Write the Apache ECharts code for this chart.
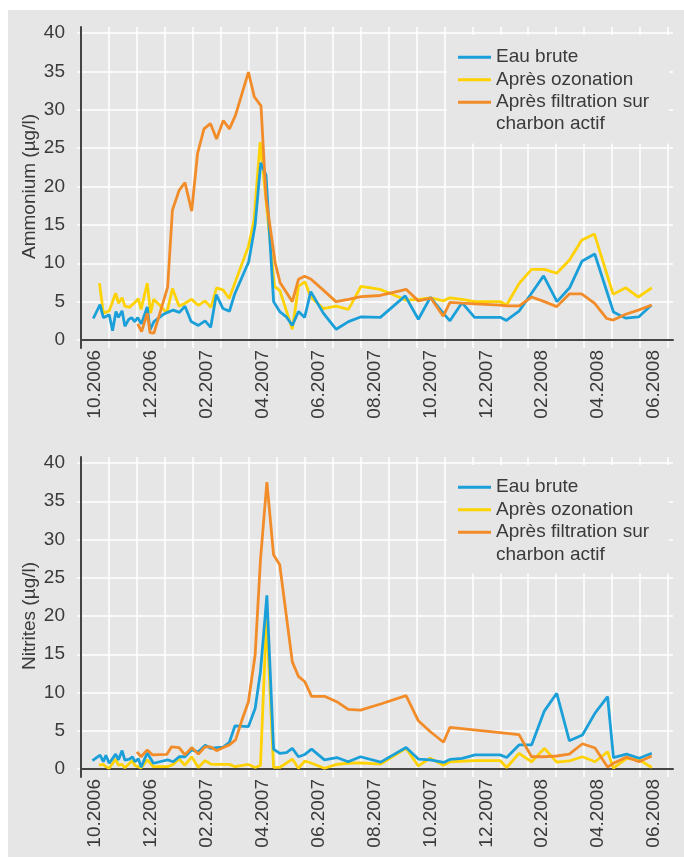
<!DOCTYPE html>
<html>
<head>
<meta charset="utf-8">
<script src="https://cdn.jsdelivr.net/npm/echarts@6/dist/echarts.min.js"></script>
<style>
  html, body { margin: 0; padding: 0; background: #fff; }
  #panel { position: absolute; left: 8px; top: 10px; right: 0; bottom: 0; background: #e6e6e7; }
  #chart { position: absolute; left: 0; top: 0; width: 684px; height: 857px; }
</style>
</head>
<body>
<div id="panel"></div>
<div id="chart"></div>
<script>
// mois (étiquettes de l'axe), la position x des mesures est en mois depuis le 1.10.2006
var mois = ['10.2006','11.2006','12.2006','01.2007','02.2007','03.2007','04.2007','05.2007','06.2007','07.2007','08.2007','09.2007',
            '10.2007','11.2007','12.2007','01.2008','02.2008','03.2008','04.2008','05.2008','06.2008'];
var graduationsY = [0, 40, 5];

// Ammonium (µg/l)
var ammoniumBrute = [[0.44,2.8],[0.68,4.6],[0.80,2.9],[1.01,3.3],[1.13,1.2],[1.25,3.7],[1.34,2.95],[1.47,3.8],[1.57,1.8],[1.71,2.7],
  [1.82,2.9],[1.92,2.4],[2.03,2.9],[2.16,2.1],[2.37,4.3],[2.47,1.3],[2.61,2.4],[2.91,3.25],[3.10,3.6],[3.30,3.9],[3.52,3.6],
  [3.72,4.4],[3.94,2.4],[4.20,1.9],[4.44,2.5],[4.64,1.65],[4.84,5.9],[5.08,4.1],[5.31,3.75],[5.50,6.0],[6.0,10.2],[6.23,15.0],
  [6.43,23.1],[6.62,21.5],[6.89,5.0],[7.11,3.7],[7.35,3.0],[7.56,1.9],[7.78,3.7],[8.0,2.95],[8.22,6.3],[8.67,3.5],[9.13,1.4],
  [9.57,2.4],[10.0,3.0],[10.71,2.95],[11.6,5.75],[12.07,2.7],[12.5,5.56],[12.98,3.4],[13.2,2.5],[13.63,4.86],[14.08,2.95],
  [15.0,2.95],[15.22,2.55],[15.67,3.75],[16.1,6.0],[16.55,8.35],[17.03,5.0],[17.48,6.8],[17.92,10.25],[18.38,11.2],[19.05,3.65],
  [19.48,2.85],[19.95,3.0],[20.41,4.56]];
var ammoniumOzone = [[0.66,7.4],[0.80,3.5],[1.01,3.8],[1.24,6.1],[1.34,4.8],[1.47,5.5],[1.57,4.4],[1.73,4.25],[1.93,4.9],[2.05,5.4],
  [2.15,4.0],[2.37,7.4],[2.49,3.5],[2.6,5.3],[2.83,4.5],[3.07,3.5],[3.27,6.7],[3.51,4.4],[3.72,4.8],[3.96,5.3],[4.2,4.5],[4.44,5.1],
  [4.65,4.25],[4.85,6.8],[5.09,6.5],[5.3,5.4],[5.99,12.2],[6.19,15.6],[6.41,25.8],[6.6,19.0],[6.92,7.0],[7.12,6.4],[7.56,1.4],
  [7.78,7.0],[8.01,7.6],[8.22,5.6],[8.67,4.1],[9.12,4.4],[9.57,4.0],[10.02,7.0],[10.7,6.6],[11.18,5.9],[11.63,5.2],[12.07,5.3],
  [12.52,5.5],[12.96,5.1],[13.2,5.5],[13.64,5.3],[14.09,5.0],[14.99,5.0],[15.23,4.6],[15.68,7.4],[16.12,9.2],[16.58,9.2],
  [17.02,8.7],[17.47,10.4],[17.91,13.0],[18.37,13.8],[19.04,5.95],[19.49,6.8],[19.94,5.6],[20.42,6.8]];
var ammoniumCharbon = [[2.03,2.1],[2.17,1.1],[2.37,3.5],[2.47,0.95],[2.61,0.9],[3.1,6.9],[3.27,16.9],[3.51,19.5],[3.72,20.5],
  [3.96,16.8],[4.17,24.3],[4.4,27.5],[4.63,28.2],[4.85,26.2],[5.09,28.6],[5.31,27.5],[5.53,29.3],[5.99,34.9],[6.2,31.7],[6.44,30.5],
  [6.62,18.5],[6.95,10.0],[7.12,7.5],[7.56,5.0],[7.78,7.9],[8.0,8.3],[8.22,7.95],[8.67,6.5],[9.12,5.0],[9.57,5.3],[10.02,5.65],
  [10.7,5.8],[11.18,6.2],[11.63,6.6],[12.07,5.1],[12.52,5.45],[12.96,3.1],[13.2,4.9],[13.64,4.8],[14.09,4.7],[14.99,4.55],
  [15.23,4.45],[15.68,4.45],[16.12,5.6],[16.58,5.0],[17.02,4.35],[17.47,6.0],[17.91,6.0],[18.37,4.8],[18.81,2.8],[19.04,2.6],
  [19.49,3.35],[19.94,3.9],[20.42,4.56]];

// Nitrites (µg/l)
var nitritesBrute = [[0.41,1.1],[0.68,1.8],[0.80,0.95],[0.89,1.8],[1.01,0.75],[1.24,1.95],[1.34,1.2],[1.47,2.4],[1.57,1.15],
  [1.73,1.3],[1.84,1.6],[1.93,0.95],[2.05,1.35],[2.15,0.25],[2.37,2.1],[2.59,0.75],[3.1,1.2],[3.3,0.95],[3.51,1.6],[3.72,1.6],
  [3.96,2.5],[4.2,2.25],[4.44,3.1],[4.64,2.7],[4.85,2.8],[5.09,2.85],[5.31,3.5],[5.51,5.65],[5.99,5.55],[6.23,7.9],[6.42,12.7],
  [6.65,22.7],[6.89,2.6],[7.11,2.05],[7.35,2.15],[7.56,2.7],[7.78,1.6],[8.01,1.9],[8.25,2.6],[8.71,1.2],[9.15,1.5],[9.56,0.95],
  [10.0,1.6],[10.72,0.9],[11.63,2.8],[12.07,1.3],[12.49,1.2],[12.97,0.85],[13.2,1.25],[13.64,1.4],[14.1,1.85],[14.99,1.85],
  [15.23,1.5],[15.67,3.15],[16.12,3.15],[16.58,7.6],[17.02,9.9],[17.47,3.7],[17.94,4.45],[18.39,7.3],[18.84,9.45],[19.05,1.5],
  [19.52,1.95],[19.97,1.4],[20.42,2.05]];
var nitritesOzone = [[0.64,0.5],[0.80,0.6],[0.89,0.3],[1.01,0.1],[1.24,1.3],[1.34,0.5],[1.47,0.6],[1.57,0.15],[1.84,1.1],[1.93,0.45],
  [2.15,0.15],[2.37,1.2],[2.59,0.3],[3.1,0.3],[3.3,0.6],[3.51,1.3],[3.72,0.5],[3.96,1.6],[4.2,0.2],[4.44,1.1],[4.64,0.65],
  [4.85,0.6],[5.31,0.6],[5.51,0.3],[5.99,0.6],[6.23,0.2],[6.42,0.45],[6.64,19.8],[6.89,0.2],[7.11,0.2],[7.56,1.3],[7.78,0.1],
  [8.01,1.05],[8.25,0.75],[8.71,0.1],[9.15,0.6],[9.56,0.75],[10.0,0.8],[10.72,0.65],[11.63,2.7],[12.07,0.4],[12.49,1.4],
  [12.97,0.5],[13.2,0.95],[14.1,1.1],[14.99,1.1],[15.23,0.2],[15.67,2.05],[16.12,0.95],[16.58,2.7],[17.02,0.9],[17.47,1.05],
  [17.94,1.6],[18.39,0.95],[18.84,2.25],[19.05,0.1],[19.52,1.4],[19.97,1.2],[20.42,0.2]];
var nitritesCharbon = [[2.0,2.25],[2.15,1.6],[2.37,2.5],[2.55,1.85],[3.07,1.9],[3.24,2.9],[3.51,2.8],[3.72,1.85],[3.96,2.8],
  [4.2,1.95],[4.44,2.9],[4.64,2.9],[4.85,2.4],[5.09,2.8],[5.31,3.15],[5.53,3.8],[5.75,6.3],[5.99,8.8],[6.23,14.9],[6.42,27.3],
  [6.65,37.5],[6.89,28.0],[7.11,26.7],[7.56,14.0],[7.78,12.1],[8.01,11.4],[8.25,9.5],[8.71,9.5],[9.15,8.8],[9.56,7.8],[10.0,7.7],
  [10.72,8.5],[11.63,9.6],[12.07,6.3],[12.49,4.9],[12.97,3.5],[13.2,5.45],[15.67,4.5],[16.12,1.6],[16.58,1.6],[17.02,1.7],
  [17.47,1.95],[17.94,3.3],[18.39,2.75],[18.84,0.25],[19.05,0.75],[19.52,1.55],[19.97,0.95],[20.42,1.7]];

var noms = ['Eau brute', 'Après ozonation', 'Après filtration sur charbon actif'];
var couleurs = ['#1a9fd9', '#ffd200', '#f28c28'];

var police = '"Liberation Sans", Arial, sans-serif';
var texte = '#3a3a3a';
var fond = '#e6e6e7';

var myChart = echarts.init(document.getElementById('chart'));

function grilles(top) {
  return [
    { left: 81, top: top, width: 592, height: top === 33 ? 307 : 306 },
    { left: 81, top: top - 6, width: 587, height: (top === 33 ? 307 : 306) + 14 }
  ];
}

function axesX(g) {
  return [
    { type: 'value', gridIndex: g, min: 0, max: 21.18, z: 1,
      axisLine: { show: true, lineStyle: { color: '#444', width: 2 } },
      axisTick: { show: false }, axisLabel: { show: false }, splitLine: { show: false } },
    { type: 'category', gridIndex: g + 1, data: mois, offset: -8, z: 0,
      axisLine: { show: false }, axisTick: { show: false },
      axisLabel: { interval: 1, rotate: 90, margin: 10, fontSize: 19, fontFamily: police, color: texte },
      splitLine: { show: true, interval: 0, lineStyle: { color: '#fff', width: 1.5 } } }
  ];
}

function axesY(g, nom) {
  return [
    { type: 'value', gridIndex: g, min: graduationsY[0], max: graduationsY[1], interval: graduationsY[2], z: 0,
      name: nom, nameLocation: 'middle', nameGap: 42, nameMoveOverlap: false,
      nameTextStyle: { fontSize: 19, fontFamily: police, color: texte },
      axisLine: { show: false },
      axisTick: { show: true, length: 4, lineStyle: { color: '#fff', width: 1.5 } },
      axisLabel: { margin: 16, fontSize: 19, fontFamily: police, color: texte },
      splitLine: { lineStyle: { color: '#fff', width: 1.5 } } },
    { type: 'value', gridIndex: g + 1, min: 0, max: 1, z: 1,
      axisLine: { show: true, lineStyle: { color: '#444', width: 2 } },
      axisTick: { show: false }, axisLabel: { show: false }, splitLine: { show: false } }
  ];
}

function serie(nom, donnees, couleur, axe) {
  return {
    name: nom, type: 'line', data: donnees, xAxisIndex: axe, yAxisIndex: axe,
    showSymbol: false, symbol: 'none', animation: false,
    lineStyle: { color: couleur, width: 2.8 }, itemStyle: { color: couleur }
  };
}

function legende(top) {
  return {
    orient: 'vertical', left: 447, top: top, padding: [11, 20, 30, 11],
    backgroundColor: fond, itemGap: 0, itemWidth: 33, itemHeight: 3, icon: 'rect',
    selectedMode: false, data: noms,
    textStyle: { fontSize: 19, fontFamily: police, color: texte, lineHeight: 22.5 },
    formatter: function (n) { return n === noms[2] ? 'Après filtration sur' : n; }
  };
}

var option = {
  animation: false,
  grid: grilles(33).concat(grilles(463)),
  xAxis: axesX(0).concat(axesX(2)),
  yAxis: axesY(0, 'Ammonium (µg/l)').concat(axesY(2, 'Nitrites (µg/l)')),
  legend: [legende(35), legende(465)],
  graphic: [
    { type: 'text', z: 10, style: { text: 'charbon actif', x: 496, y: 124, verticalAlign: 'middle', font: '19px ' + police, fill: texte } },
    { type: 'text', z: 10, style: { text: 'charbon actif', x: 496, y: 555, verticalAlign: 'middle', font: '19px ' + police, fill: texte } }
  ],
  series: [
    serie(noms[1], ammoniumOzone, couleurs[1], 0),
    serie(noms[0], ammoniumBrute, couleurs[0], 0),
    serie(noms[2], ammoniumCharbon, couleurs[2], 0),
    serie(noms[1], nitritesOzone, couleurs[1], 2),
    serie(noms[0], nitritesBrute, couleurs[0], 2),
    serie(noms[2], nitritesCharbon, couleurs[2], 2)
  ]
};

myChart.setOption(option);
</script>
</body>
</html>
